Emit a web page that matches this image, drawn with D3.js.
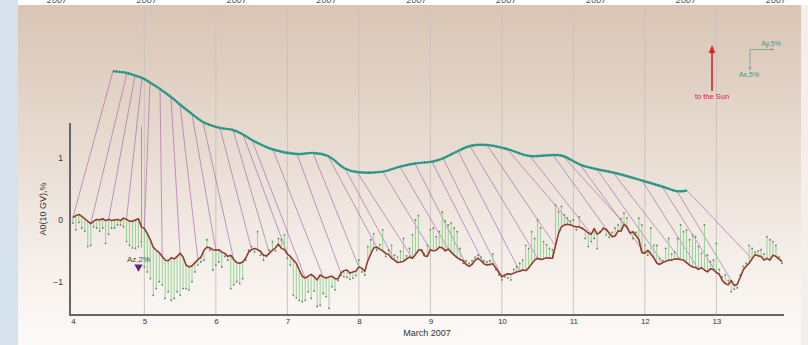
<!DOCTYPE html>
<html><head><meta charset="utf-8">
<script src="https://cdn.jsdelivr.net/npm/d3@7"></script>
<style>
html,body{margin:0;padding:0;background:#fff;}
svg{display:block;font-family:"Liberation Sans",Arial,sans-serif;}
</style></head><body>
<svg id="chart" width="808" height="345"></svg>
<script>
// Day-of-month ticks (March 2007) and A0 ticks
const dayTicks = [4, 5, 6, 7, 8, 9, 10, 11, 12, 13];
const valueTicks = [-1, 0, 1];
const yearLabels = ["2007", "2007", "2007", "2007", "2007", "2007", "2007", "2007", "2007"];

// Hourly series starting 4 March 00 UT
const startDay = 4;
// A0 density variation of 10 GV particles, %
const a0 = [
  0.04, 0.07, 0.09, 0.06, 0.02, -0.02, -0.06, -0.02, 0.01, 0.00,
  0.02, -0.01, 0.01, -0.01, 0.00, 0.01, -0.01, 0.03, 0.01, -0.02,
  -0.02, 0.00, 0.02, -0.11, -0.14, -0.22, -0.32, -0.44, -0.49, -0.53,
  -0.59, -0.65, -0.66, -0.61, -0.63, -0.59, -0.54, -0.60, -0.73, -0.76,
  -0.74, -0.69, -0.64, -0.60, -0.49, -0.44, -0.45, -0.48, -0.49, -0.48,
  -0.52, -0.54, -0.59, -0.57, -0.64, -0.69, -0.70, -0.68, -0.62, -0.52,
  -0.48, -0.46, -0.48, -0.51, -0.57, -0.58, -0.54, -0.49, -0.45, -0.39,
  -0.46, -0.48, -0.55, -0.59, -0.65, -0.70, -0.81, -0.91, -0.94, -0.91,
  -0.88, -0.92, -0.97, -0.89, -0.92, -0.94, -0.92, -0.91, -0.95, -0.95,
  -0.86, -0.82, -0.81, -0.86, -0.84, -0.83, -0.76, -0.78, -0.83, -0.66,
  -0.55, -0.45, -0.44, -0.47, -0.50, -0.54, -0.56, -0.62, -0.65, -0.69,
  -0.68, -0.67, -0.63, -0.60, -0.62, -0.56, -0.49, -0.48, -0.58, -0.59,
  -0.48, -0.50, -0.49, -0.44, -0.45, -0.50, -0.47, -0.52, -0.57, -0.61,
  -0.64, -0.66, -0.72, -0.75, -0.72, -0.65, -0.62, -0.66, -0.71, -0.73,
  -0.72, -0.71, -0.78, -0.85, -0.92, -0.89, -0.87, -0.88, -0.86, -0.84,
  -0.83, -0.81, -0.82, -0.78, -0.71, -0.65, -0.62, -0.64, -0.63, -0.61,
  -0.62, -0.62, -0.42, -0.22, -0.11, -0.08, -0.07, -0.08, -0.10, -0.11,
  -0.11, -0.14, -0.17, -0.21, -0.23, -0.14, -0.23, -0.20, -0.14, -0.15,
  -0.21, -0.27, -0.26, -0.18, -0.18, -0.07, -0.11, -0.21, -0.19, -0.25,
  -0.32, -0.53, -0.54, -0.49, -0.55, -0.61, -0.70, -0.72, -0.69, -0.67,
  -0.65, -0.65, -0.63, -0.63, -0.64, -0.65, -0.69, -0.73, -0.76, -0.77,
  -0.80, -0.77, -0.81, -0.84, -0.79, -0.80, -0.85, -0.88, -0.98, -1.03,
  -1.05, -0.98, -1.06, -1.04, -0.93, -0.81, -0.75, -0.70, -0.63, -0.56,
  -0.58, -0.59, -0.65, -0.62, -0.65, -0.57, -0.59, -0.63, -0.67
];
// Tip of the north-south (Az) vector drawn from each A0 point, %
const azTip = [
  -0.05, -0.16, -0.04, -0.13, -0.18, -0.43, -0.41, -0.11, -0.13, -0.18,
  -0.13, -0.38, -0.23, -0.13, -0.13, -0.08, -0.08, -0.11, -0.35, -0.41,
  -0.45, -0.46, -0.43, -0.35, -0.76, -0.84, -0.95, -1.22, -1.11, -1.00,
  -1.05, -1.27, -1.16, -1.30, -1.27, -1.16, -1.22, -1.11, -1.11, -1.13,
  -1.00, -0.84, -0.73, -0.68, -0.65, -0.32, -0.49, -0.81, -0.73, -0.68,
  -0.76, -0.59, -0.65, -1.11, -1.05, -1.00, -1.03, -0.95, -0.65, -0.49,
  -0.43, -0.52, -0.19, -0.57, -0.65, -0.59, -0.49, -0.35, -0.50, -0.30,
  -0.32, -0.24, -0.62, -0.73, -1.22, -1.26, -1.30, -1.32, -1.30, -1.16,
  -1.27, -1.15, -1.40, -1.38, -1.19, -1.24, -1.43, -1.08, -1.13, -0.98,
  -0.90, -0.92, -0.93, -0.96, -0.94, -0.90, -0.65, -0.84, -0.89, -0.43,
  -0.32, -0.22, -0.49, -0.40, -0.16, -0.59, -0.49, -0.41, -0.57, -0.60,
  -0.51, -0.30, -0.58, -0.46, -0.24, 0.00, 0.07, -0.50, -0.55, -0.41,
  -0.16, -0.13, -0.27, -0.19, 0.13, -0.02, -0.08, -0.05, -0.13, -0.19,
  -0.46, -0.70, -0.66, -0.70, -0.66, -0.60, -0.57, -0.60, -0.66, -0.68,
  -0.66, -0.55, -0.80, -0.89, -0.97, -0.92, -0.94, -0.97, -0.80, -0.76,
  -0.70, -0.65, -0.41, -0.46, -0.19, -0.30, 0.00, -0.13, -0.35, -0.40,
  -0.46, -0.48, 0.24, 0.13, 0.22, 0.08, 0.03, -0.02, 0.00, -0.16,
  0.05, -0.13, -0.30, -0.43, -0.35, -0.30, -0.46, -0.19, -0.13, -0.24,
  -0.28, -0.20, -0.13, -0.08, 0.02, 0.11, 0.03, -0.21, -0.30, -0.20,
  0.03, -0.08, -0.41, -0.57, -0.13, -0.41, -0.41, -0.62, -0.66, -0.46,
  -0.30, -0.55, -0.52, -0.30, -0.08, -0.19, -0.16, -0.32, -0.24, -0.27,
  -0.43, -0.54, -0.08, -0.57, -0.68, -0.65, -0.38, -0.80, -0.92, -0.89,
  -0.98, -1.16, -1.12, -1.10, -0.89, -0.75, -0.70, -0.41, -0.46, -0.52,
  -0.50, -0.48, -0.55, -0.27, -0.32, -0.35, -0.41, -0.60, -0.70
];
// Equatorial anisotropy hodograph, one point every 6 hours (day, %)
const tealDay = [
  4.561, 4.757, 4.869, 4.967, 5.079, 5.219, 5.373, 5.498, 5.666, 5.820,
  6.058, 6.240, 6.380, 6.505, 6.799, 7.135, 7.359, 7.568, 7.806, 7.974,
  8.338, 8.575, 8.785, 9.023, 9.177, 9.387, 9.554, 9.792, 10.072, 10.393,
  10.715, 10.855, 11.093, 11.331, 11.554, 11.960, 12.240, 12.450, 12.590
];
const tealVal = [
  2.409, 2.380, 2.339, 2.299, 2.226, 2.121, 1.992, 1.870, 1.716, 1.587,
  1.490, 1.457, 1.384, 1.295, 1.141, 1.068, 1.085, 1.036, 0.834, 0.777,
  0.782, 0.863, 0.915, 0.944, 0.999, 1.117, 1.198, 1.214, 1.149, 1.036,
  1.052, 1.036, 0.898, 0.821, 0.769, 0.639, 0.542, 0.466, 0.478
];
const hodoStep = 6; // hours between hodograph points

const svg = d3.select("#chart");
const W = 808, H = 345;

const x = d3.scaleLinear().domain([3.96, 13.96]).range([70, 785]);
const y = d3.scaleLinear().domain([-1.53, 1.57]).range([314.5, 123]);

const hours = a0.map((v, i) => ({ t: startDay + i / 24, a0: v, tip: azTip[i] }));
const hodo = tealDay.map((d, k) => ({ t: d, v: tealVal[k], base: hours[k * hodoStep] }));

// backdrop
const defs = svg.append("defs");
const grad = defs.append("linearGradient").attr("id", "bg").attr("x1", 0).attr("y1", 0).attr("x2", 0).attr("y2", 1);
grad.append("stop").attr("offset", "0%").attr("stop-color", "#d9c5b5");
grad.append("stop").attr("offset", "45%").attr("stop-color", "#e9ddd3");
grad.append("stop").attr("offset", "75%").attr("stop-color", "#f5efea");
grad.append("stop").attr("offset", "100%").attr("stop-color", "#fcfaf8");

svg.append("rect").attr("width", W).attr("height", H).attr("fill", "#ffffff");
svg.append("rect").attr("x", 0).attr("y", 0).attr("width", 18).attr("height", H).attr("fill", "#d5e1eb");
svg.append("rect").attr("x", 18).attr("y", 5).attr("width", 783).attr("height", H - 5).attr("fill", "url(#bg)");
svg.append("rect").attr("x", 801).attr("y", 5).attr("width", 7).attr("height", H - 5).attr("fill", "#f3efec");

// year labels of the panel above, clipped by the top edge
const yl = d3.scaleLinear().domain([0, yearLabels.length - 1]).range([57, 776]);
svg.append("g").selectAll("text").data(yearLabels).join("text")
  .attr("x", (d, i) => yl(i)).attr("y", 3)
  .attr("text-anchor", "middle").attr("font-size", 9).attr("font-style", "italic")
  .attr("fill", "#555").text(d => d);

// day grid
svg.append("g").selectAll("line").data(dayTicks.filter(d => d > 4)).join("line")
  .attr("x1", d => x(d)).attr("x2", d => x(d)).attr("y1", 5).attr("y2", 314)
  .attr("stroke", "#cdc3bc").attr("stroke-width", 1);

// hodograph connectors from A0 points to the hodograph
svg.append("g").selectAll("line").data(hodo).join("line")
  .attr("x1", d => x(d.base.t)).attr("y1", d => y(d.base.a0))
  .attr("x2", d => x(d.t)).attr("y2", d => y(d.v))
  .attr("stroke", "#aa68b2").attr("stroke-width", 0.8).attr("stroke-opacity", 0.85);

// Az vectors
const gz = svg.append("g");
gz.selectAll("line").data(hours).join("line")
  .attr("x1", d => x(d.t)).attr("x2", d => x(d.t))
  .attr("y1", d => y(d.a0)).attr("y2", d => y(d.tip))
  .attr("stroke", "#93d493").attr("stroke-width", 1);
gz.selectAll("circle").data(hours).join("circle")
  .attr("cx", d => x(d.t)).attr("cy", d => y(d.tip)).attr("r", 0.9)
  .attr("fill", "#6f7d70");

// Az scale mark
const azScale = { t: 4.96, top: 1.51, bottom: -0.45, mark: -0.76, label: "Az,2%" };
svg.append("line").attr("x1", x(azScale.t)).attr("x2", x(azScale.t))
  .attr("y1", y(azScale.top)).attr("y2", y(azScale.bottom))
  .attr("stroke", "#6cc46c").attr("stroke-width", 1);
svg.append("text").attr("x", x(azScale.t) - 3).attr("y", y(azScale.mark) - 5)
  .attr("text-anchor", "middle").attr("font-size", 8).attr("fill", "#444")
  .text(azScale.label);
svg.append("path")
  .attr("d", d3.symbol().type(d3.symbolTriangle).size(30))
  .attr("transform", `translate(${x(azScale.t) - 3},${y(azScale.mark)}) rotate(180)`)
  .attr("fill", "#6b1f7a");

// A0 curve
const line = d3.line().x(d => x(d.t)).y(d => y(d.a0));
svg.append("path").datum(hours).attr("d", line)
  .attr("fill", "none").attr("stroke", "#7e3325").attr("stroke-width", 1.5)
  .attr("stroke-linejoin", "round");
svg.append("path").datum(hours).attr("d", line)
  .attr("fill", "none").attr("stroke", "#c8423a").attr("stroke-width", 0.6)
  .attr("stroke-opacity", 0.8).attr("stroke-linejoin", "round");

// hodograph curve
const hline = d3.line().x(d => x(d.t)).y(d => y(d.v)).curve(d3.curveCatmullRom);
svg.append("path").datum(hodo).attr("d", hline)
  .attr("fill", "none").attr("stroke", "#3aa596").attr("stroke-width", 2.4);
svg.append("path").datum(hodo).attr("d", hline)
  .attr("fill", "none").attr("stroke", "#1f7d70").attr("stroke-width", 1.6)
  .attr("stroke-dasharray", "1.2 1.8");

// axes
svg.append("line").attr("x1", 70).attr("x2", 70).attr("y1", y(1.57)).attr("y2", 315)
  .attr("stroke", "#666").attr("stroke-width", 2);
svg.append("line").attr("x1", 69).attr("x2", 784).attr("y1", 315).attr("y2", 315)
  .attr("stroke", "#666").attr("stroke-width", 2);

const xAxis = d3.axisBottom(x).tickValues(dayTicks).tickSize(0).tickPadding(2).tickFormat(d3.format("d"));
svg.append("g").attr("transform", "translate(0,316)").call(xAxis)
  .call(g => g.select(".domain").remove())
  .call(g => g.selectAll("text").attr("font-size", 8).attr("fill", "#333").attr("font-family", "Liberation Sans, Arial, sans-serif"));

const yAxis = d3.axisLeft(y).tickValues(valueTicks).tickSize(0).tickPadding(6).tickFormat(d3.format("d"));
svg.append("g").attr("transform", "translate(69,0)").call(yAxis)
  .call(g => g.select(".domain").remove())
  .call(g => g.selectAll("text").attr("font-size", 8.5).attr("fill", "#333").attr("font-family", "Liberation Sans, Arial, sans-serif"));

svg.append("text").attr("x", 427).attr("y", 336).attr("text-anchor", "middle")
  .attr("font-size", 9).attr("fill", "#333").text("March 2007");
svg.append("text").attr("transform", "translate(46,209) rotate(-90)")
  .attr("text-anchor", "middle").attr("font-size", 9).attr("fill", "#333").text("A0(10 GV),%");

// direction to the Sun
defs.append("marker").attr("id", "redHead").attr("viewBox", "0 0 10 10")
  .attr("refX", 5).attr("refY", 5).attr("markerWidth", 5).attr("markerHeight", 5).attr("orient", "auto")
  .append("path").attr("d", "M0,1 L10,5 L0,9 Z").attr("fill", "#e0201e");
svg.append("line").attr("x1", 712).attr("x2", 712).attr("y1", 91).attr("y2", 49)
  .attr("stroke", "#e0201e").attr("stroke-width", 1.6).attr("marker-end", "url(#redHead)");
svg.append("text").attr("x", 712).attr("y", 99).attr("text-anchor", "middle")
  .attr("font-size", 7.5).attr("fill", "#e0201e").text("to the Sun");

// Ax / Ay scale
defs.append("marker").attr("id", "grayHead").attr("viewBox", "0 0 10 10")
  .attr("refX", 8).attr("refY", 5).attr("markerWidth", 4).attr("markerHeight", 4).attr("orient", "auto")
  .append("path").attr("d", "M0,1 L10,5 L0,9 Z").attr("fill", "#8fa5a0");
svg.append("line").attr("x1", 750).attr("x2", 774).attr("y1", 49.5).attr("y2", 49.5)
  .attr("stroke", "#8fa5a0").attr("stroke-width", 1).attr("marker-end", "url(#grayHead)");
svg.append("line").attr("x1", 750).attr("x2", 750).attr("y1", 49.5).attr("y2", 70)
  .attr("stroke", "#8fa5a0").attr("stroke-width", 1).attr("marker-end", "url(#grayHead)");
svg.append("text").attr("x", 771).attr("y", 46).attr("text-anchor", "middle")
  .attr("font-size", 7).attr("fill", "#3a9a8a").text("Ay,5%");
svg.append("text").attr("x", 749).attr("y", 77).attr("text-anchor", "middle")
  .attr("font-size", 7).attr("fill", "#3a9a8a").text("Ax,5%");
</script>
</body></html>
